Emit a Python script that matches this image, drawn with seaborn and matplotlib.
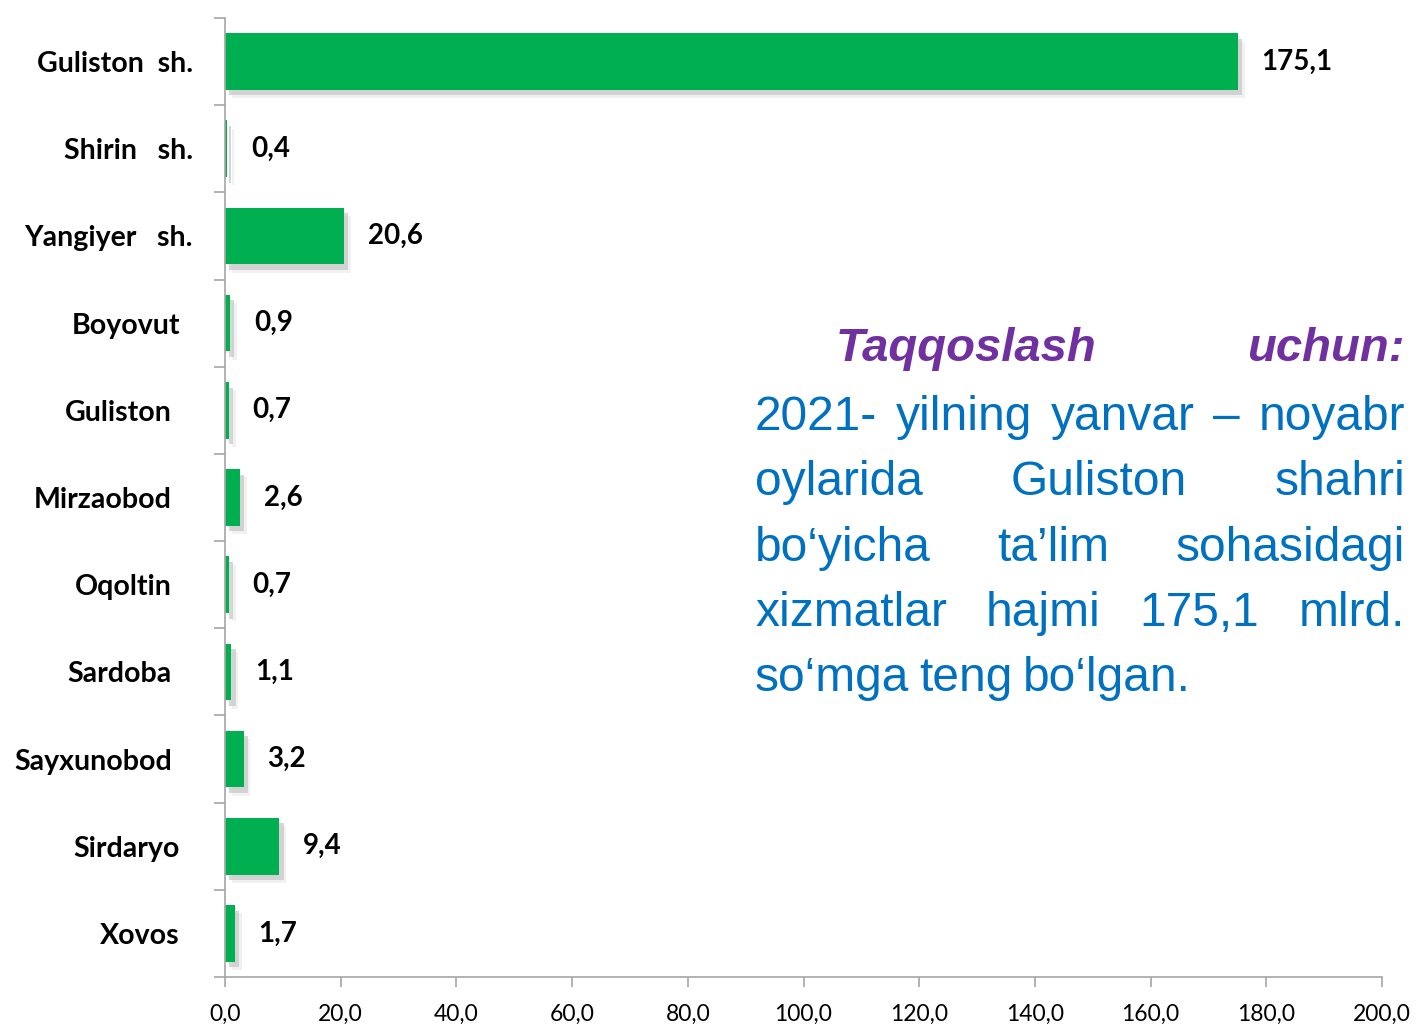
import numpy as np
import pandas as pd
import matplotlib
matplotlib.use("Agg")
import matplotlib.pyplot as plt
import matplotlib.patheffects as pe
import matplotlib.transforms as mtransforms
import seaborn as sns

# data
districts = ["Guliston  sh.", "Shirin   sh.", "Yangiyer   sh.", "Boyovut", "Guliston",
             "Mirzaobod", "Oqoltin", "Sardoba", "Sayxunobod", "Sirdaryo", "Xovos"]
values = [175.1, 0.4, 20.6, 0.9, 0.7, 2.6, 0.7, 1.1, 3.2, 9.4, 1.7]
x_ticks = [0, 20, 40, 60, 80, 100, 120, 140, 160, 180, 200]
# extra shift of the category label to the left (px), as in the original layout
label_shift = [0, 0, 0, 13, 21, 21, 21, 21, 21, 13, 13]

note_title = ["Taqqoslash", "uchun:"]
note_lines = [
    ["2021-", "yilning", "yanvar", "–", "noyabr"],
    ["oylarida", "Guliston", "shahri"],
    ["bo‘yicha", "ta’lim", "sohasidagi"],
    ["xizmatlar", "hajmi", "175,1", "mlrd."],
    ["so‘mga", "teng", "bo‘lgan."],
]

df = pd.DataFrame({"district": districts, "value": values})

sns.set_style("white")
plt.rcParams["text.color"] = "black"
plt.rcParams["xtick.color"] = "black"
plt.rcParams["ytick.color"] = "black"
W, H = 1416, 1024
fig = plt.figure(figsize=(W / 100, H / 100), dpi=100)
ax = fig.add_axes([225 / W, 1 - 977 / H, (1382 - 225) / W, (977 - 18) / H])

sns.barplot(data=df, y="district", x="value", color="#00B050", orient="h",
            width=0.65, saturation=1, linewidth=0, ax=ax)

for bar in ax.patches:
    bar.set_path_effects([pe.SimplePatchShadow(offset=(3, -4), shadow_rgbFace="#9a9a9a", alpha=0.4),
                          pe.SimplePatchShadow(offset=(5, -6), shadow_rgbFace="#c8c8c8", alpha=0.25),
                          pe.Normal()])

ax.bar_label(ax.containers[0], labels=[f"{v:.1f}".replace(".", ",") for v in values],
             padding=17, fontsize=20, fontweight="bold", family="Lato", color="black")

ax.set_xlim(0, 200)
ax.set_ylim(10.5, -0.5)
ax.set_xticks(x_ticks)
ax.set_xticklabels([f"{t:.1f}".replace(".", ",") for t in x_ticks], fontsize=16.5,
                   family="Lato", color="black")
ax.set_yticks(np.arange(-0.5, 11, 1), minor=True)
ax.tick_params(axis="y", which="major", left=False, length=0, pad=23, labelcolor="black")
ax.tick_params(axis="y", which="minor", left=True, length=8, color="#a6a6a6", width=1.2, direction="out")
ax.tick_params(axis="x", bottom=True, length=7, color="#a6a6a6", width=1.2, direction="out",
               pad=12, labelcolor="black")
for lbl, sh in zip(ax.get_yticklabels(), label_shift):
    lbl.set_fontsize(20.5)
    lbl.set_fontweight("bold")
    lbl.set_family("Lato")
    lbl.set_color("black")
    lbl.set_transform(lbl.get_transform() + mtransforms.ScaledTranslation(-sh / 100, 0, fig.dpi_scale_trans))
ax.set_xlabel("")
ax.set_ylabel("")
for s in ["top", "right"]:
    ax.spines[s].set_visible(False)
for s in ["left", "bottom"]:
    ax.spines[s].set_color("#a6a6a6")
    ax.spines[s].set_linewidth(1.2)

# justified note text on the right
renderer = fig.canvas.get_renderer()


def justify(words, x0, x1, y, **kw):
    texts = [fig.text(0, 1 - y / H, w, va="baseline", ha="left", **kw) for w in words]
    widths = [t.get_window_extent(renderer).width for t in texts]
    gap = (x1 - x0 - sum(widths)) / max(len(words) - 1, 1)
    x = x0
    for t, w in zip(texts, widths):
        t.set_x(x / W)
        x += w + gap


justify(note_title, 836, 1405, 361, fontsize=34, fontweight="bold", fontstyle="italic",
        color="#7030A0", family="Liberation Sans")
base = 430
for i, line in enumerate(note_lines):
    y = base + i * 65.3
    if i < len(note_lines) - 1:
        justify(line, 755, 1405, y, fontsize=34.5, color="#0070C0", family="Liberation Sans")
    else:
        x = 755
        for w in line:
            t = fig.text(x / W, 1 - y / H, w, va="baseline", ha="left", fontsize=34.5,
                         color="#0070C0", family="Liberation Sans")
            x += t.get_window_extent(renderer).width + 10

fig.savefig("out.png", dpi=100)
